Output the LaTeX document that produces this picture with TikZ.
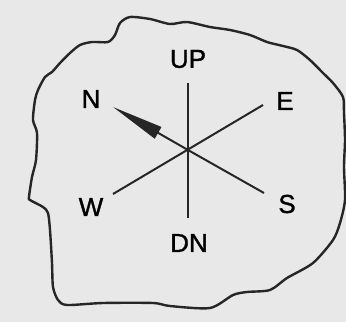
\documentclass[tikz,border=0pt]{standalone}
\usepackage{fontspec}
\setmainfont{Liberation Sans}
\newfontfamily\dirfont[FakeBold=1.2]{Liberation Sans}
\usetikzlibrary{arrows.meta}
\definecolor{paper}{HTML}{E8E8E8}
\begin{document}
\begin{tikzpicture}[
    x=1pt, y=-1pt,
    % Styles
    dir_label/.style={inner sep=0pt, font=\dirfont\fontsize{26}{26}\selectfont},
    axis_line/.style={black!85, line width=2pt},
    rock_edge/.style={black!85, line width=2.4pt, line join=round},
    north_tip/.style={-{Triangle[length=52pt, width=13pt]}}
]

    % ==========================================
    % 1. BACKGROUND
    % ==========================================
    \fill[paper] (0,0) rectangle (346,322);
    \useasboundingbox (0,0) rectangle (346,322);

    % ==========================================
    % 2. ROCK OUTLINE
    % ==========================================
    \draw[rock_edge] plot[smooth cycle, tension=0.45] coordinates {
        (130,17) (150,19) (170,24) (187,22) (210,27) (230,30) (250,35)
        (267,42) (283,46) (297,50) (310,60) (323,73) (333,83) (343,97)
        (344,113) (345,140) (344,167) (345,200) (340,223) (333,240)
        (313,263) (287,278) (270,290) (247,292) (233,295) (210,308)
        (170,306) (153,303) (103,303) (67,305) (58,300) (53,287)
        (52,263) (50,230) (48,213) (43,207) (30,200) (29,197) (32,177)
        (36,160) (37,133) (33,120) (35,100) (38,90) (45,77) (52,72)
        (60,63) (70,53) (80,45) (92,42) (108,42) (115,35) (120,23)
    };

    % ==========================================
    % 3. END POINTS OF THE AXES
    % ==========================================
    \coordinate (ctr) at (188,150);
    \coordinate (up_end) at (188,83);
    \coordinate (dn_end) at (188,218);
    \coordinate (n_end) at (113,107);
    \coordinate (e_end) at (263,105);
    \coordinate (w_end) at (113,194);
    \coordinate (s_end) at (264,193);

    % ==========================================
    % 4. AXES
    % ==========================================
    \draw[axis_line] (up_end) -- (dn_end);
    \draw[axis_line] (e_end) -- (w_end);
    \draw[axis_line] (s_end) -- (ctr);
    \draw[axis_line, north_tip] (ctr) -- (n_end);

    % ==========================================
    % 5. LABELS
    % ==========================================
    \node[dir_label] (up) at (188,59) {UP};
    \node[dir_label] (dn) at (189,243) {DN};
    \node[dir_label] (n) at (91,99) {N};
    \node[dir_label] (e) at (285,101) {E};
    \node[dir_label] (w) at (91,207) {W};
    \node[dir_label] (s) at (287,204) {S};

\end{tikzpicture}
\end{document}
